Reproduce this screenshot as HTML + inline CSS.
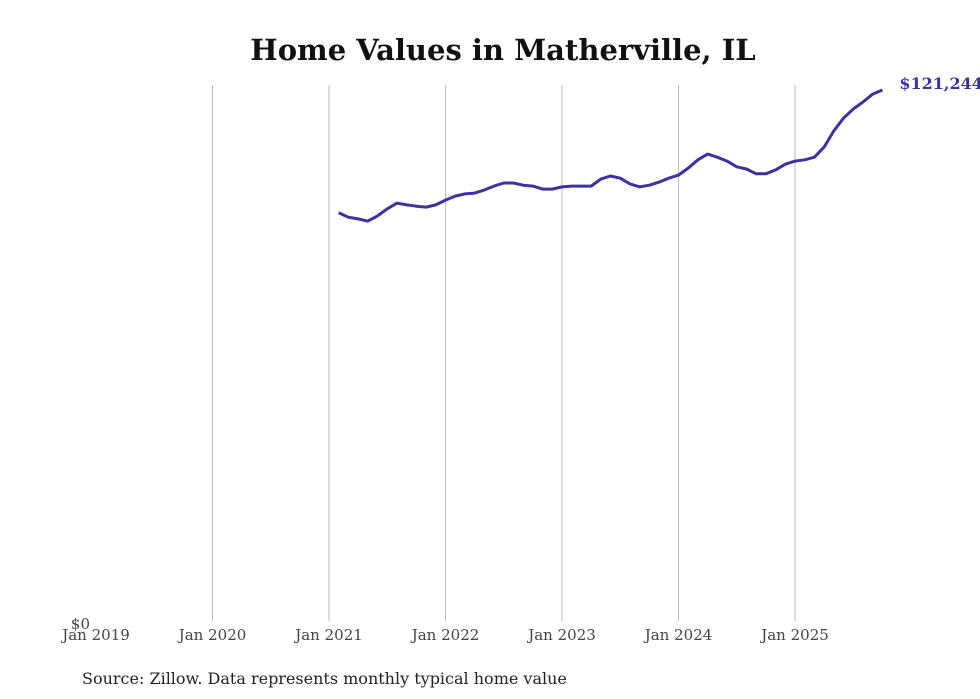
<!DOCTYPE html>
<html><head><meta charset="utf-8"><style>
body{margin:0;background:#fff;}
svg{display:block;font-family:"DejaVu Serif","Liberation Serif",serif;}
</style></head><body>
<svg id="chart" width="980" height="699">
<text x="503" y="60" text-anchor="middle" font-size="29" font-weight="bold" fill="#111">Home Values in Matherville, IL</text>
<g id="grid"></g><g id="xticks"></g>
<text x="90" y="629" text-anchor="end" font-size="15" fill="#444">$0</text>
<path id="line" fill="none" stroke="#3b33a0" stroke-width="3" stroke-linejoin="round"></path>
<text id="endlabel" font-size="16" font-weight="bold" fill="#3b33a0"></text>
<text x="82" y="684" font-size="16" fill="#222">Source: Zillow. Data represents monthly typical home value</text>
</svg>
<script>
const tickYears=[2019,2020,2021,2022,2023,2024,2025];
const startYear=2021, startMonth=1; // Feb 2021 (0-based month)
const values=[93.2,92.2,91.8,91.3,92.5,94.1,95.4,95.0,94.7,94.5,95.0,96.1,97.0,97.5,97.7,98.4,99.3,100.0,100.0,99.5,99.3,98.6,98.6,99.1,99.3,99.3,99.3,100.9,101.6,101.1,99.8,99.1,99.5,100.2,101.1,101.8,103.4,105.3,106.6,105.9,105.0,103.7,103.2,102.1,102.1,103.0,104.3,105.0,105.3,105.9,108.2,111.9,114.8,116.9,118.5,120.3,121.244];
const endLabel="$121,244";
const ns="http://www.w3.org/2000/svg";
const x=m=>96+(m/12)*116.5; // m = months since Jan 2019
const y=v=>621-v*4.38;
const grid=document.getElementById('grid'), xt=document.getElementById('xticks');
tickYears.forEach(yr=>{
  const px=x((yr-2019)*12);
  if(yr>2019){const l=document.createElementNS(ns,'line');
  l.setAttribute('x1',px);l.setAttribute('x2',px);l.setAttribute('y1',85);l.setAttribute('y2',621);
  l.setAttribute('stroke','#bbb');l.setAttribute('stroke-width','1');
  
  
  grid.appendChild(l);}
  const t=document.createElementNS(ns,'text');
  t.setAttribute('x',px);t.setAttribute('y',640);t.setAttribute('text-anchor','middle');
  t.setAttribute('font-size','15');t.setAttribute('fill','#444');
  t.textContent='Jan '+yr;
  
  
  xt.appendChild(t);
});
const off=(startYear-2019)*12+startMonth;
document.getElementById('line').setAttribute('d',values.map((v,i)=>(i?'L':'M')+x(off+i).toFixed(1)+','+y(v).toFixed(1)).join(''));
const el=document.getElementById('endlabel');
const li=values.length-1;
el.setAttribute('x',x(off+li)+17);el.setAttribute('y',y(values[li])-1);
el.textContent=endLabel;
</script>
</body></html>
